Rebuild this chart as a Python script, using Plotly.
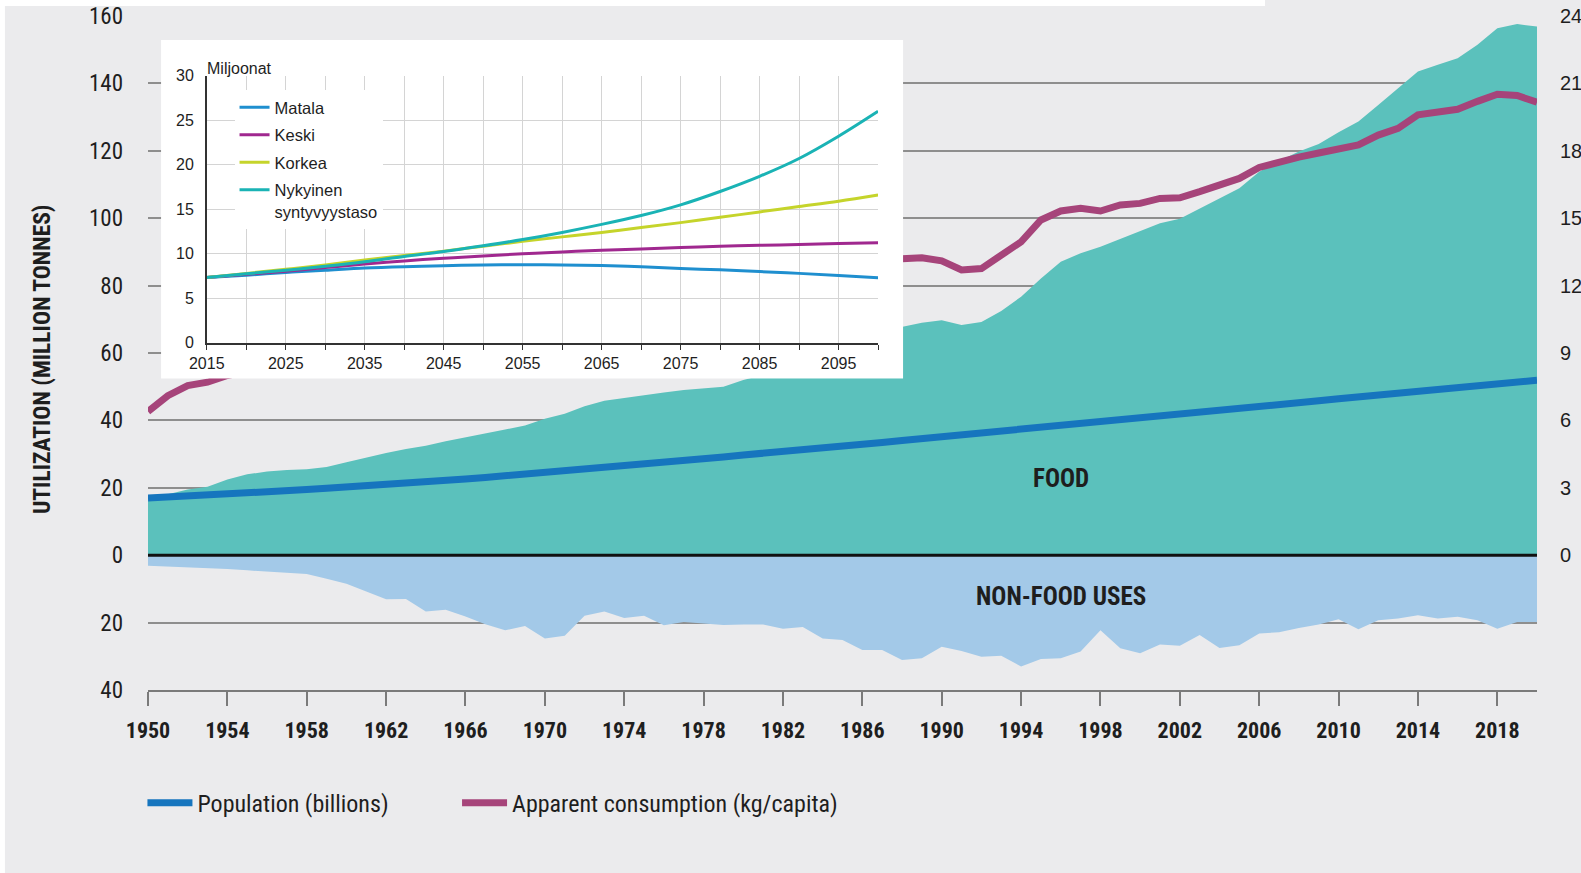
import plotly.graph_objects as go

# ---- main chart data (1950-2020) ----
years = list(range(1950, 2021))

food = [
    17.2, 18.1, 19.5, 20.3, 22.5, 24.0, 24.8, 25.3, 25.5, 26.2,
    27.6, 29.0, 30.3, 31.5, 32.5, 33.8, 34.9, 36.0, 37.3, 38.5,
    40.5, 42.0, 44.2, 45.8, 46.7, 47.5, 48.3, 49.0, 49.5, 50.0,
    52.0, 53.5, 55.0, 57.0, 59.5, 62.0, 64.5, 66.5, 67.8, 69.0,
    69.7, 68.3, 69.2, 72.5, 76.7, 82.1, 87.1, 89.6, 91.5, 93.8,
    96.0, 98.5, 99.8, 102.9, 105.8, 108.9, 113.8, 117.0, 119.8, 122.0,
    125.5, 128.7, 133.6, 138.6, 143.5, 145.5, 147.5, 151.5, 156.4, 157.6,
    156.9,
]

non_food = [
    3.1, 3.3, 3.6, 3.8, 4.1, 4.5, 4.9, 5.2, 5.6, 7.0,
    8.5, 10.8, 13.1, 13.0, 16.7, 16.2, 18.2, 20.5, 22.3, 21.0,
    24.7, 23.9, 18.0, 16.7, 18.6, 18.0, 20.8, 19.8, 20.3, 20.7,
    20.6, 20.6, 21.8, 21.3, 24.7, 25.2, 28.1, 28.1, 31.1, 30.6,
    27.2, 28.4, 30.1, 29.8, 33.0, 30.8, 30.6, 28.6, 22.3, 27.6,
    29.1, 26.5, 26.9, 23.7, 27.5, 26.7, 23.2, 22.9, 21.6, 20.6,
    19.0, 22.0, 19.3, 18.8, 17.8, 18.8, 18.3, 19.3, 21.8, 19.8,
    19.8,
]

population = [
    2.54, 2.58, 2.63, 2.68, 2.73, 2.77, 2.82, 2.87, 2.92, 2.98,
    3.03, 3.07, 3.13, 3.19, 3.26, 3.32, 3.39, 3.46, 3.53, 3.60,
    3.70, 3.78, 3.85, 3.93, 4.00, 4.08, 4.15, 4.23, 4.30, 4.37,
    4.46, 4.53, 4.61, 4.70, 4.77, 4.86, 4.94, 5.02, 5.11, 5.19,
    5.33, 5.41, 5.49, 5.57, 5.64, 5.74, 5.82, 5.89, 5.97, 6.04,
    6.14, 6.22, 6.30, 6.38, 6.46, 6.54, 6.62, 6.71, 6.79, 6.87,
    6.96, 7.04, 7.13, 7.21, 7.30, 7.38, 7.46, 7.55, 7.63, 7.71,
    7.79,
]

consumption = [
    6.4, 7.1, 7.55, 7.7, 8.0, 8.2, 8.3, 8.4, 8.6, 8.8,
    8.9, 9.0, 9.3, 9.5, 9.8, 10.0, 10.3, 10.5, 10.8, 10.9,
    11.2, 11.3, 11.1, 11.3, 11.5, 11.4, 11.5, 11.4, 11.6, 11.6,
    11.7, 11.8, 11.9, 12.0, 12.3, 12.5, 12.9, 13.1, 13.2, 13.24,
    13.1, 12.7, 12.76, 13.36, 13.95, 14.92, 15.32, 15.44, 15.32, 15.59,
    15.66, 15.88, 15.91, 16.18, 16.45, 16.77, 17.26, 17.5, 17.72, 17.9,
    18.1, 18.26, 18.7, 19.0, 19.6, 19.7, 19.85, 20.2, 20.52, 20.46,
    20.16,
]

left_ticks = [-40, -20, 0, 20, 40, 60, 80, 100, 120, 140, 160]
left_labels = ["40", "20", "0", "20", "40", "60", "80", "100", "120", "140", "160"]
right_ticks = [0, 3, 6, 9, 12, 15, 18, 21, 24]
year_ticks = list(range(1950, 2019, 4))

# ---- inset data (Finnish scenarios, millions) ----
inset_years = list(range(2015, 2101, 5))
matala = [7.35, 7.6, 7.9, 8.15, 8.4, 8.55, 8.65, 8.75, 8.78, 8.75,
          8.68, 8.55, 8.35, 8.2, 8.0, 7.8, 7.55, 7.32]
keski = [7.35, 7.7, 8.05, 8.45, 8.85, 9.2, 9.5, 9.75, 10.0, 10.2,
         10.4, 10.55, 10.7, 10.85, 10.95, 11.05, 11.15, 11.24]
korkea = [7.35, 7.8, 8.25, 8.75, 9.3, 9.8, 10.3, 10.85, 11.4, 11.9,
          12.4, 12.95, 13.5, 14.1, 14.7, 15.3, 15.9, 16.6]
nykyinen = [7.35, 7.75, 8.15, 8.6, 9.1, 9.7, 10.25, 10.9, 11.6, 12.4,
            13.3, 14.3, 15.5, 17.0, 18.7, 20.7, 23.2, 26.0]
inset_series = [
    ("Matala", matala, "#1f8fcf"),
    ("Keski", keski, "#a0288f"),
    ("Korkea", korkea, "#c5d42b"),
    ("Nykyinen<br>syntyvyystaso", nykyinen, "#1ab3b5"),
]

# ---- style ----
BG = "#ebebed"
NARROW = "Liberation Sans Narrow, Roboto Condensed, DejaVu Sans Condensed, sans-serif"
ARIAL = "Liberation Sans, Arial, sans-serif"
TEXT = "#1e1e1e"

fig = go.Figure()

fig.add_trace(go.Scatter(
    x=years, y=food, mode="lines", line=dict(width=0),
    fill="tozeroy", fillcolor="#5bc1bc", showlegend=False, hoverinfo="skip",
))
fig.add_trace(go.Scatter(
    x=years, y=[-v for v in non_food], mode="lines", line=dict(width=0),
    fill="tozeroy", fillcolor="#a3c9e8", showlegend=False, hoverinfo="skip",
))
fig.add_trace(go.Scatter(
    x=years, y=population, yaxis="y2", mode="lines",
    line=dict(color="#1675be", width=7), name="Population (billions)",
    legend="legend",
))
fig.add_trace(go.Scatter(
    x=years, y=consumption, yaxis="y2", mode="lines",
    line=dict(color="#a6447a", width=7), name="Apparent consumption (kg/capita)",
    legend="legend3",
))

# inset white box (its own subplot so the background covers the main chart)
fig.add_trace(go.Scatter(
    x=[None], y=[None], xaxis="x3", yaxis="y3", showlegend=False, hoverinfo="skip",
))
for i, (name, vals, color) in enumerate(inset_series):
    fig.add_trace(go.Scatter(
        x=inset_years, y=vals, xaxis="x4", yaxis="y4", mode="lines",
        line=dict(color=color, width=3, shape="spline"), name=name,
        legend="legend2", legendgroup=f"g{i}",
    ))

# inset geometry in paper fractions (plot area: 148..1537 px, 16..690 px)
box_x = [0.0094, 0.5436]
box_y = [0.4622, 0.9644]
data_x = [0.0423, 0.5256]
data_y = [0.5151, 0.9114]

fig.update_layout(
    width=1581,
    height=873,
    template="none",
    paper_bgcolor=BG,
    plot_bgcolor="white",
    margin=dict(l=148, r=44, t=16, b=183, autoexpand=False),
    xaxis=dict(
        range=[1950, 2020], tickvals=year_ticks, ticks="outside", ticklen=14,
        tickwidth=2, tickcolor="#7a7a7a", showline=True, linecolor="#7a7a7a",
        linewidth=2, showgrid=False, zeroline=False, ticklabelstandoff=6,
        tickfont=dict(family=NARROW, size=22, color=TEXT, weight="bold"),
    ),
    yaxis=dict(
        range=[-40, 160], tickvals=left_ticks, ticktext=left_labels, ticks="",
        showgrid=True, gridcolor="#8e8e8e", gridwidth=1.5, zeroline=False,
        showline=False, ticklabelstandoff=24, ticklabeloverflow="allow",
        tickfont=dict(family=NARROW, size=23, color=TEXT),
    ),
    yaxis2=dict(
        range=[-6, 24], overlaying="y", side="right", tickvals=right_ticks,
        showgrid=False, zeroline=False, showline=False, ticks="",
        ticklabelstandoff=22, ticklabeloverflow="allow",
        tickfont=dict(family=ARIAL, size=20, color=TEXT),
    ),
    xaxis3=dict(domain=box_x, anchor="y3", visible=False, range=[0, 1]),
    yaxis3=dict(domain=box_y, anchor="x3", visible=False, range=[0, 1]),
    xaxis4=dict(
        domain=data_x, anchor="y4", range=[2015, 2100],
        tickvals=list(range(2015, 2100, 10)), ticks="outside", ticklen=5,
        tickcolor="#333", showline=True, linecolor="#333", linewidth=1.5,
        showgrid=True, gridcolor="#d4d4d4", gridwidth=1, zeroline=False,
        minor=dict(tickvals=list(range(2020, 2101, 10)), ticks="outside", ticklen=5,
                   tickcolor="#333", showgrid=True, gridcolor="#d4d4d4", gridwidth=1),
        tickfont=dict(family=ARIAL, size=16, color=TEXT),
    ),
    yaxis4=dict(
        domain=data_y, anchor="x4", range=[0, 30], tickvals=list(range(0, 31, 5)),
        ticks="", showline=True, linecolor="#333", linewidth=1.5,
        showgrid=True, gridcolor="#d4d4d4", gridwidth=1, zeroline=False,
        ticklabelstandoff=8, tickfont=dict(family=ARIAL, size=16, color=TEXT),
    ),
    legend=dict(
        orientation="h", x=-0.004, y=-0.168, xanchor="left", yanchor="middle",
        itemwidth=45, bgcolor="rgba(0,0,0,0)",
        font=dict(family=NARROW, size=24, color=TEXT),
    ),
    legend3=dict(
        orientation="h", x=0.2225, y=-0.168, xanchor="left", yanchor="middle",
        itemwidth=45, bgcolor="rgba(0,0,0,0)",
        font=dict(family=NARROW, size=24, color=TEXT),
    ),
    legend2=dict(
        x=0.0623, y=0.89, xanchor="left", yanchor="top", bgcolor="white",
        valign="top", tracegroupgap=3,
        font=dict(family=ARIAL, size=16.5, color=TEXT),
    ),
    showlegend=True,
)

# main plot background (below the inset subplots), page edge strips, zero line
fig.add_shape(type="rect", xref="paper", yref="paper", x0=0, x1=1, y0=0, y1=1,
              fillcolor=BG, line_width=0, layer="below")
fig.add_shape(type="rect", xref="paper", yref="paper", x0=-0.11, x1=0.8042,
              y0=1.0148, y1=1.03, fillcolor="white", line_width=0, layer="below")
fig.add_shape(type="rect", xref="paper", yref="paper", x0=-0.11, x1=-0.1030,
              y0=-0.28, y1=1.03, fillcolor="white", line_width=0, layer="below")
fig.add_shape(type="line", xref="x", yref="y", x0=1950, x1=2020, y0=0, y1=0,
              line=dict(color="#111", width=3), layer="above")

fig.add_annotation(x=1996, y=22.8, xref="x", yref="y", text="<b>FOOD</b>",
                   showarrow=False, font=dict(family=NARROW, size=25, color=TEXT))
fig.add_annotation(x=1996, y=-12.3, xref="x", yref="y", text="<b>NON-FOOD USES</b>",
                   showarrow=False, font=dict(family=NARROW, size=25, color=TEXT))
fig.add_annotation(x=-0.0763, y=0.491, xref="paper", yref="paper",
                   xanchor="center", yanchor="middle",
                   text="<b>UTILIZATION (MILLION TONNES)</b>", textangle=-90,
                   showarrow=False, font=dict(family=NARROW, size=23.5, color=TEXT))
fig.add_annotation(x=0.041, y=0.9377, xref="paper", yref="paper", text="Miljoonat",
                   xanchor="left", showarrow=False,
                   font=dict(family=ARIAL, size=16, color=TEXT))

fig.write_html(
    "out.html",
    config={"displayModeBar": False},
    post_script="document.body.style.margin = '0';",
)
